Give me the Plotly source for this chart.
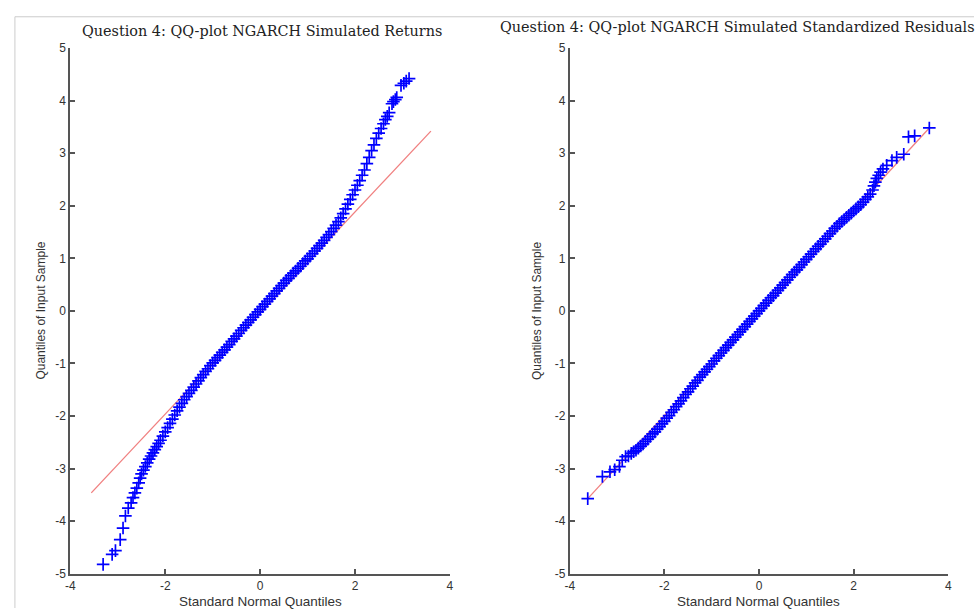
import plotly.graph_objects as go

# ---- Left panel: NGARCH simulated returns (QQ points)
ret_x = [-3.31, -3.12, -3.05, -2.95, -2.89, -2.84, -2.78, -2.72, -2.68, -2.64, -2.60, -2.56, -2.53, -2.50,
         -2.46, -2.42, -2.38, -2.34, -2.30, -2.26, -2.22, -2.18, -2.14, -2.10, -2.05, -2.00, -1.95, -1.90,
         -1.85, -1.80, -1.75, -1.70, -1.65, -1.60, -1.55, -1.50, -1.45, -1.40, -1.35, -1.30, -1.25, -1.20,
         -1.15, -1.10, -1.05, -1.00, -0.95, -0.90, -0.85, -0.80, -0.75, -0.70, -0.65, -0.60, -0.55, -0.50,
         -0.45, -0.40, -0.35, -0.30, -0.25, -0.20, -0.15, -0.10, -0.05, 0.00, 0.05, 0.10, 0.15, 0.20, 0.25,
         0.30, 0.35, 0.40, 0.45, 0.50, 0.55, 0.60, 0.65, 0.70, 0.75, 0.80, 0.85, 0.90, 0.95, 1.00, 1.05,
         1.10, 1.15, 1.20, 1.25, 1.30, 1.35, 1.40, 1.45, 1.50, 1.55, 1.60, 1.65, 1.70, 1.75, 1.80, 1.85,
         1.90, 1.95, 2.00, 2.05, 2.10, 2.15, 2.20, 2.25, 2.30, 2.35, 2.40, 2.45, 2.50, 2.55, 2.60, 2.64,
         2.68, 2.72, 2.78, 2.81, 2.85, 2.88, 2.97, 3.03, 3.08, 3.14]
ret_y = [-4.82, -4.63, -4.56, -4.35, -4.13, -3.90, -3.75, -3.65, -3.55, -3.46, -3.37, -3.27, -3.18, -3.10,
         -3.03, -2.96, -2.89, -2.82, -2.76, -2.70, -2.64, -2.58, -2.52, -2.46, -2.38, -2.30, -2.22, -2.14,
         -2.06, -1.98, -1.90, -1.83, -1.76, -1.69, -1.63, -1.57, -1.51, -1.45, -1.39, -1.33, -1.27, -1.21,
         -1.15, -1.10, -1.04, -0.99, -0.94, -0.89, -0.84, -0.79, -0.74, -0.69, -0.64, -0.58, -0.53, -0.48,
         -0.43, -0.37, -0.32, -0.27, -0.22, -0.17, -0.12, -0.07, -0.02, 0.03, 0.08, 0.13, 0.18, 0.23, 0.28,
         0.33, 0.38, 0.43, 0.48, 0.53, 0.58, 0.62, 0.67, 0.72, 0.76, 0.81, 0.85, 0.90, 0.95, 0.99, 1.04,
         1.09, 1.14, 1.19, 1.24, 1.29, 1.34, 1.40, 1.45, 1.51, 1.57, 1.63, 1.70, 1.77, 1.85, 1.94, 2.03,
         2.12, 2.21, 2.30, 2.39, 2.48, 2.58, 2.68, 2.80, 2.92, 3.05, 3.16, 3.28, 3.38, 3.47, 3.56, 3.64,
         3.70, 3.77, 3.94, 3.98, 4.02, 4.06, 4.29, 4.33, 4.37, 4.42]
ret_line_x = [-3.56, 3.60]
ret_line_y = [-3.46, 3.42]

# ---- Right panel: NGARCH simulated standardized residuals
res_x = [-3.62, -3.31, -3.15, -3.05, -2.95, -2.89, -2.82, -2.76, -2.70, -2.65, -2.60, -2.55, -2.50, -2.45,
         -2.40, -2.35, -2.30, -2.25, -2.20, -2.15, -2.10, -2.05, -2.00, -1.95, -1.90, -1.85, -1.80, -1.75,
         -1.70, -1.65, -1.60, -1.55, -1.50, -1.45, -1.40, -1.35, -1.30, -1.25, -1.20, -1.15, -1.10, -1.05,
         -1.00, -0.95, -0.90, -0.85, -0.80, -0.75, -0.70, -0.65, -0.60, -0.55, -0.50, -0.45, -0.40, -0.35,
         -0.30, -0.25, -0.20, -0.15, -0.10, -0.05, 0.00, 0.05, 0.10, 0.15, 0.20, 0.25, 0.30, 0.35, 0.40,
         0.45, 0.50, 0.55, 0.60, 0.65, 0.70, 0.75, 0.80, 0.85, 0.90, 0.95, 1.00, 1.05, 1.10, 1.15, 1.20,
         1.25, 1.30, 1.35, 1.40, 1.45, 1.50, 1.55, 1.60, 1.65, 1.70, 1.75, 1.80, 1.85, 1.90, 1.95, 2.00,
         2.05, 2.10, 2.15, 2.20, 2.25, 2.30, 2.35, 2.40, 2.43, 2.46, 2.49, 2.53, 2.57, 2.62, 2.70, 2.81,
         2.91, 3.06, 3.16, 3.29, 3.60]
res_y = [-3.57, -3.15, -3.06, -3.02, -2.96, -2.84, -2.77, -2.76, -2.71, -2.68, -2.65, -2.61, -2.57, -2.53,
         -2.48, -2.44, -2.39, -2.34, -2.30, -2.25, -2.20, -2.15, -2.10, -2.04, -1.99, -1.93, -1.88, -1.82,
         -1.77, -1.71, -1.65, -1.59, -1.54, -1.48, -1.43, -1.37, -1.32, -1.26, -1.21, -1.16, -1.11, -1.06,
         -1.01, -0.95, -0.90, -0.85, -0.80, -0.75, -0.70, -0.65, -0.60, -0.55, -0.50, -0.45, -0.40, -0.35,
         -0.30, -0.25, -0.20, -0.15, -0.10, -0.05, 0.00, 0.05, 0.10, 0.15, 0.20, 0.25, 0.29, 0.34, 0.39,
         0.44, 0.49, 0.54, 0.59, 0.64, 0.69, 0.74, 0.78, 0.83, 0.88, 0.93, 0.98, 1.03, 1.08, 1.13, 1.18,
         1.23, 1.27, 1.32, 1.37, 1.42, 1.47, 1.52, 1.57, 1.61, 1.66, 1.70, 1.74, 1.78, 1.82, 1.86, 1.90,
         1.94, 1.98, 2.02, 2.07, 2.12, 2.17, 2.22, 2.30, 2.38, 2.45, 2.52, 2.58, 2.64, 2.70, 2.77, 2.86,
         2.92, 2.98, 3.31, 3.33, 3.48]
res_line_x = [-3.62, 3.60]
res_line_y = [-3.57, 3.48]

titles = ["Question 4: QQ-plot NGARCH Simulated Returns",
          "Question 4: QQ-plot NGARCH Simulated Standardized Residuals"]
x_label = "Standard Normal Quantiles"
y_label = "Quantiles of Input Sample"
x_ticks = [-4, -2, 0, 2, 4]
x_tick_text = ["-4", "-2", "0", "2", "4"]
y_ticks = [-5, -4, -3, -2, -1, 0, 1, 2, 3, 4, 5]
y_tick_text = ["-5", "-4", "-3", "-2", "-1", "0", "1", "2", "3", "4", "5"]

W, H = 978, 615
BLUE = "#0000ff"
RED = "#f07f7f"
AX = "#555555"

fig = go.Figure()

def add_panel(xs, ys, lx, ly, xa, ya):
    fig.add_trace(go.Scatter(x=lx, y=ly, mode="lines", line=dict(color=RED, width=1.3),
                             xaxis=xa, yaxis=ya, showlegend=False, hoverinfo="skip"))
    fig.add_trace(go.Scatter(x=xs, y=ys, mode="markers",
                             marker=dict(symbol="cross-thin-open", size=9, color=BLUE,
                                         line=dict(color=BLUE, width=1.7)),
                             xaxis=xa, yaxis=ya, showlegend=False))

add_panel(ret_x, ret_y, ret_line_x, ret_line_y, "x", "y")
add_panel(res_x, res_y, res_line_x, res_line_y, "x2", "y2")

def px_x(p):
    return p / W

def px_y(p):
    return 1 - p / H

axis_common = dict(showline=True, linecolor=AX, linewidth=2, ticks="inside", ticklen=5,
                   tickwidth=1.5, tickcolor=AX, showgrid=False, zeroline=False, mirror=False,
                   tickfont=dict(family="Liberation Sans, Arial, sans-serif", size=12, color="#333333"))

ydom = [px_y(580), px_y(42)]
fig.update_layout(
    width=W, height=H,
    margin=dict(l=0, r=0, t=0, b=0),
    paper_bgcolor="white", plot_bgcolor="white",
    xaxis=dict(domain=[px_x(66), px_x(449)], range=[-4, 4], tickvals=x_ticks, ticktext=x_tick_text,
               anchor="y", **axis_common),
    yaxis=dict(domain=ydom, range=[-5, 5], tickvals=y_ticks, ticktext=y_tick_text, anchor="x", **axis_common),
    xaxis2=dict(domain=[px_x(570), px_x(952)], range=[-4, 4], tickvals=x_ticks, ticktext=x_tick_text,
                anchor="y2", **axis_common),
    yaxis2=dict(domain=ydom, range=[-5, 5], tickvals=y_ticks, ticktext=y_tick_text, anchor="x2", **axis_common),
)

serif = "DejaVu Serif, Liberation Serif, serif"
sans = "Liberation Sans, Arial, sans-serif"

ann = [
    dict(x=px_x(259), y=px_y(25), text=titles[0], font=dict(family=serif, size=14.4, color="#222222")),
    dict(x=px_x(739), y=px_y(20), text=titles[1], font=dict(family=serif, size=14.4, color="#222222")),
    dict(x=px_x(258), y=px_y(608), text=x_label, font=dict(family=sans, size=13.5, color="#333333")),
    dict(x=px_x(761), y=px_y(608), text=x_label, font=dict(family=sans, size=13.5, color="#333333")),
    dict(x=px_x(36), y=px_y(311), text=y_label, textangle=-90, font=dict(family=sans, size=12, color="#333333")),
    dict(x=px_x(537), y=px_y(311), text=y_label, textangle=-90, font=dict(family=sans, size=12, color="#333333")),
]
for a in ann:
    a.update(xref="paper", yref="paper", showarrow=False, xanchor="center", yanchor="middle")
fig.update_layout(annotations=ann)

# faint page frame at top and left
fig.add_shape(type="line", xref="paper", yref="paper", x0=px_x(10), x1=1, y0=px_y(10), y1=px_y(10),
              line=dict(color="#cccccc", width=1))
fig.add_shape(type="line", xref="paper", yref="paper", x0=px_x(10), x1=px_x(10), y0=0, y1=px_y(10),
              line=dict(color="#cccccc", width=1))

fig.write_html("out.html", config={"displayModeBar": False},
               post_script="document.body.style.margin='0';document.body.style.overflow='hidden';")
